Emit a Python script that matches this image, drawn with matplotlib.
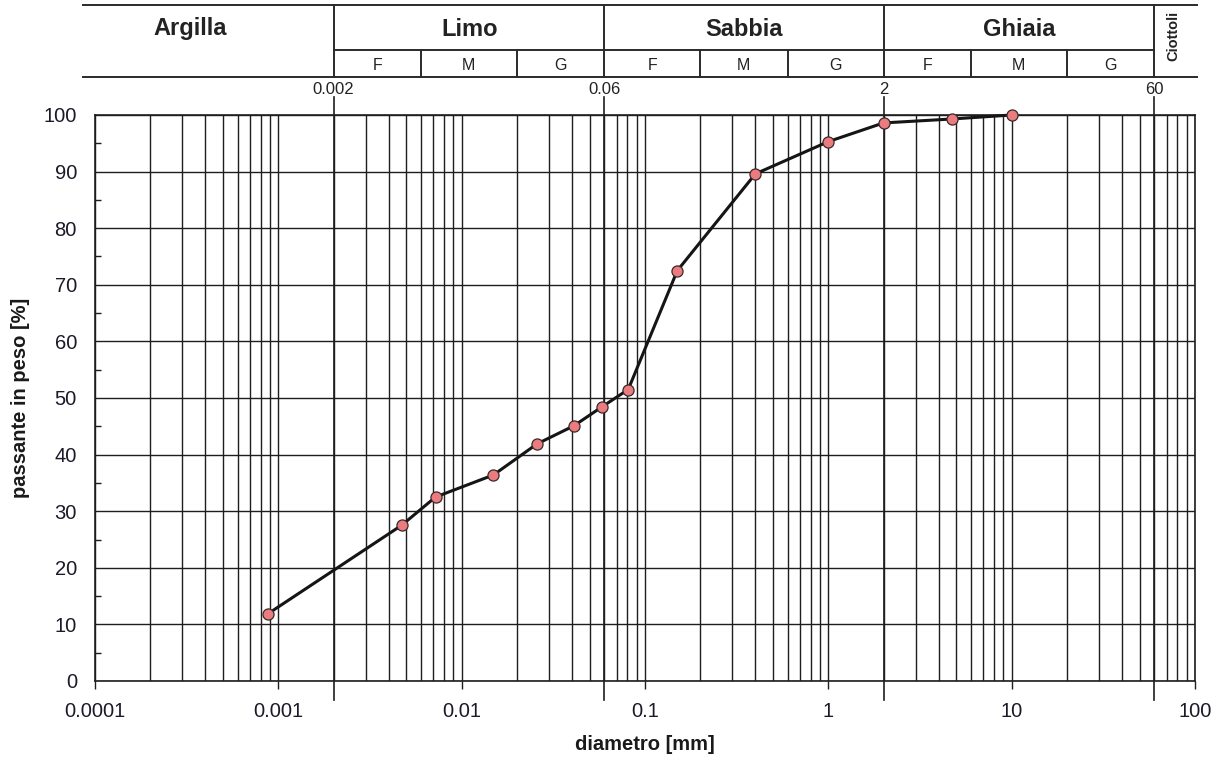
import numpy as np
import matplotlib
matplotlib.use("Agg")
import matplotlib.pyplot as plt
from matplotlib.transforms import blended_transform_factory
from matplotlib.ticker import FixedLocator, FixedFormatter, MultipleLocator, NullFormatter

plt.rcParams['font.family'] = ['Liberation Sans', 'DejaVu Sans']

# curva granulometrica
diametro = [0.00088, 0.0047, 0.0072, 0.0149, 0.0258, 0.041, 0.058, 0.081,
            0.15, 0.4, 1.0, 2.0, 4.75, 10.0]
passante = [11.9, 27.5, 32.5, 36.4, 41.9, 45.1, 48.4, 51.5,
            72.5, 89.6, 95.3, 98.6, 99.3, 100.0]

classi = ["Argilla", "Limo", "Sabbia", "Ghiaia"]
classi_x = [3.3e-4, 0.011, 0.346, 10.95]
limiti = [0.002, 0.06, 2, 60]
limiti_label = ["0.002", "0.06", "2", "60"]
sottoclassi = ["F", "M", "G"]
sotto_limiti = [0.006, 0.02, 0.2, 0.6, 6, 20]
decadi = [0.0001, 0.001, 0.01, 0.1, 1, 10, 100]
decadi_label = ["0.0001", "0.001", "0.01", "0.1", "1", "10", "100"]

W, H = 1218, 766
fig = plt.figure(figsize=(W / 100, H / 100), dpi=100)
ax = fig.add_axes([95 / W, 1 - 681 / H, 1100 / W, 566 / H])

ink = "#1e1e1e"

# griglia logaritmica
grid_x = [k * 10.0 ** e for e in range(-4, 2) for k in range(1, 10)] + [100]
for gx in grid_x:
    ax.axvline(gx, color=ink, lw=1.0, zorder=1)
for gy in range(0, 101, 10):
    ax.axhline(gy, color=ink, lw=1.0, zorder=1)

# limiti delle classi (tacche sopra e sotto)
for lx in limiti:
    ax.axvline(lx, ymin=-0.034, ymax=1.032, color=ink, lw=1.2, clip_on=False, zorder=1)

ax.plot(diametro, passante, color="#151515", lw=2.2, zorder=3, clip_on=False)
ax.plot(diametro, passante, "o", ms=8, mfc="#ea7b7e", mec="#3a2a2a", mew=0.9,
        zorder=4, clip_on=False)

ax.set_xscale("log")
ax.set_xlim(1e-4, 100)
ax.set_ylim(0, 100)

ax.xaxis.set_major_locator(FixedLocator(decadi))
ax.xaxis.set_major_formatter(FixedFormatter(decadi_label))
ax.xaxis.set_minor_locator(FixedLocator([]))
ax.xaxis.set_minor_formatter(NullFormatter())
ax.tick_params(axis="x", which="major", direction="out", length=6, width=1,
               color=ink, labelsize=14.5, pad=9, labelcolor="#1a1a2a")

ax.yaxis.set_major_locator(MultipleLocator(10))
ax.yaxis.set_minor_locator(MultipleLocator(5))
ax.tick_params(axis="y", which="major", direction="in", length=0, labelsize=14.5,
               pad=13, labelcolor="#1a1a2a")
ax.tick_params(axis="y", which="minor", direction="in", length=4, width=1, color=ink)

for s in ax.spines.values():
    s.set_color(ink)
    s.set_linewidth(1.2)

ax.set_xlabel("diametro [mm]", fontsize=14.5, fontweight="bold", labelpad=10,
              color="#1a1a1a")
ax.set_ylabel("passante in peso [%]", fontsize=14.5, fontweight="bold", labelpad=10,
              color="#1a1a1a")

# intestazione con le classi granulometriche
tr_d = blended_transform_factory(ax.transData, fig.transFigure)
tr_a = blended_transform_factory(ax.transAxes, fig.transFigure)
y_top, y_sub, y_bot = 1 - 5 / H, 1 - 50 / H, 1 - 77 / H

hl = dict(color="#2a2a2a", lw=1.4, clip_on=False)
ax.plot([-12 / 1100, 1.002], [y_top, y_top], transform=tr_a, **hl)
ax.plot([-12 / 1100, 1.002], [y_bot, y_bot], transform=tr_a, **hl)
ax.plot([limiti[0], limiti[-1]], [y_sub, y_sub], transform=tr_d, **hl)
for lx in limiti:
    ax.plot([lx, lx], [y_top, y_bot], transform=tr_d, **hl)
for sx in sotto_limiti:
    ax.plot([sx, sx], [y_sub, y_bot], transform=tr_d, **hl)

for name, cx in zip(classi, classi_x):
    ax.text(cx, 1 - 29 / H, name, transform=tr_d, ha="center", va="center",
            fontsize=17, fontweight="bold", color="#222")

bordi = [limiti[0], sotto_limiti[0], sotto_limiti[1], limiti[1], sotto_limiti[2],
         sotto_limiti[3], limiti[2], sotto_limiti[4], sotto_limiti[5], limiti[3]]
for i in range(3):
    seg = bordi[3 * i:3 * i + 4]
    for j, lab in enumerate(sottoclassi):
        cx = np.sqrt(seg[j] * seg[j + 1])
        ax.text(cx, 1 - 65 / H, lab, transform=tr_d, ha="center", va="center",
                fontsize=11.5, color="#222")

ax.text(76, 1 - 36 / H, "Ciottoli", transform=tr_d, rotation=90, ha="center",
        va="center", fontsize=10.5, fontweight="bold", color="#222")

for lx, lab in zip(limiti, limiti_label):
    ax.text(lx, 1 - 90 / H, lab, transform=tr_d, ha="center", va="center",
            fontsize=12, color="#222")

fig.savefig("out.png", dpi=100)
